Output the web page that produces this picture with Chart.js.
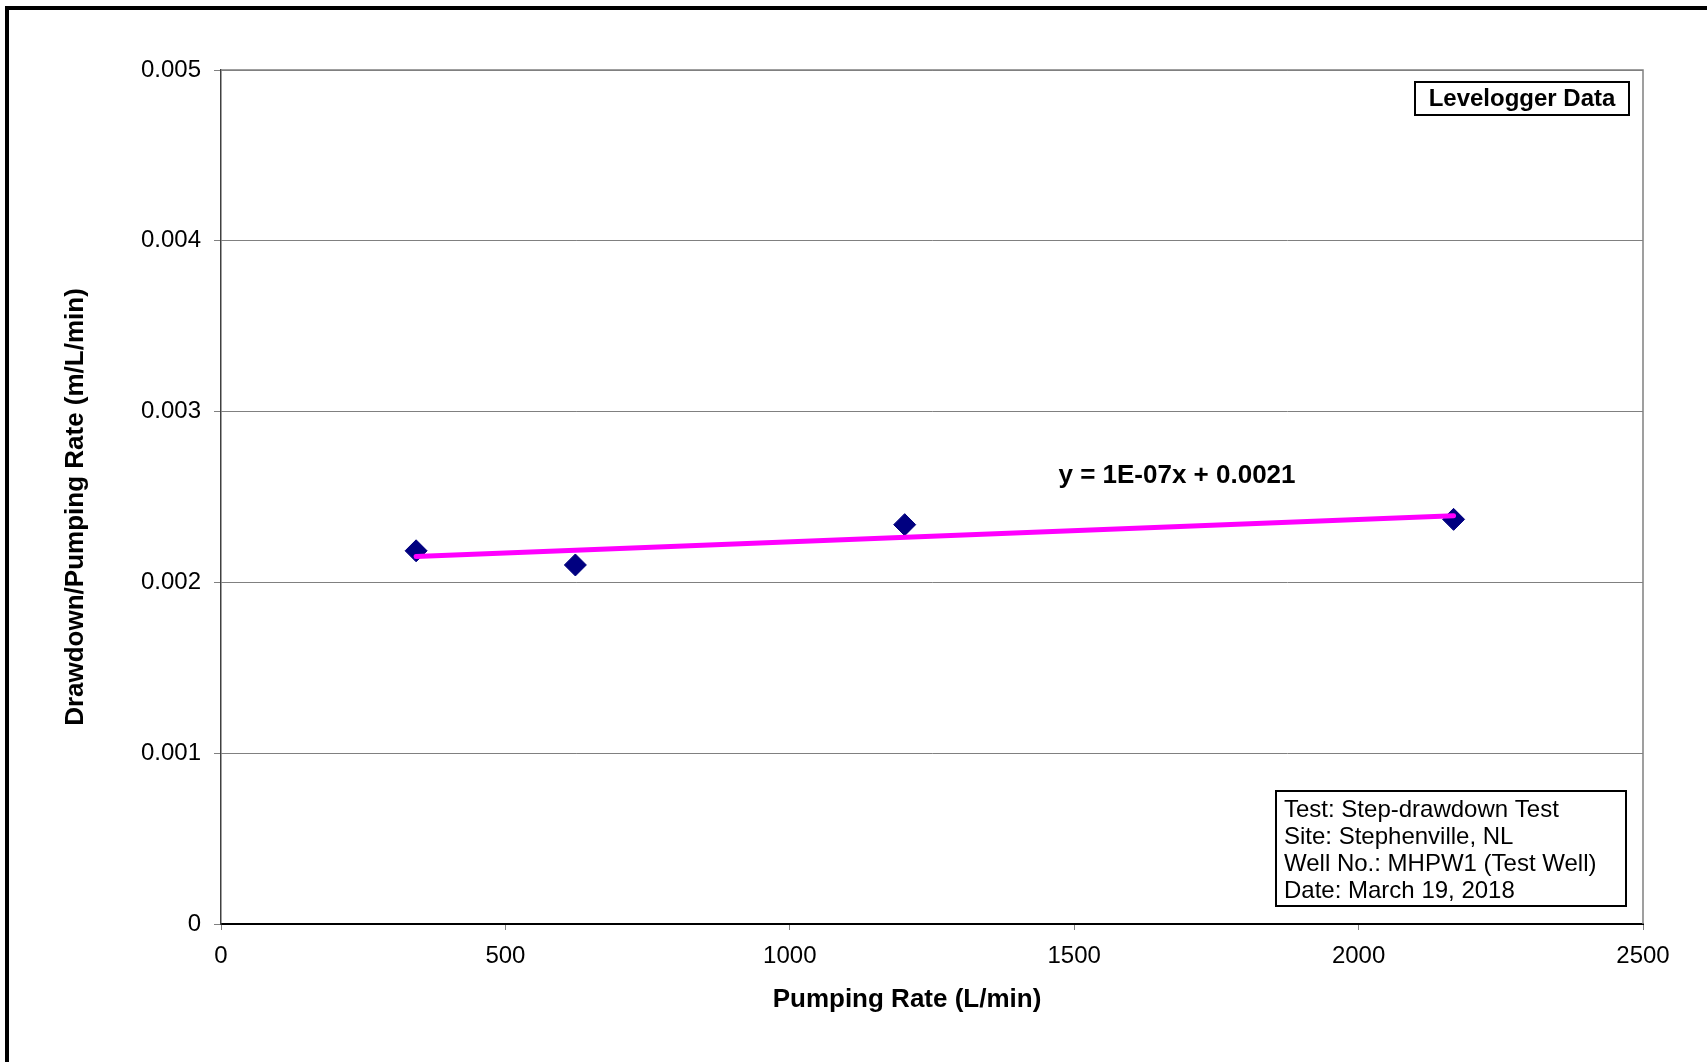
<!DOCTYPE html>
<html>
<head>
<meta charset="utf-8">
<script src="https://cdn.jsdelivr.net/npm/chart.js@4.4.1/dist/chart.umd.min.js"></script>
<style>
  html, body { margin: 0; padding: 0; background: #fff; overflow: hidden; }
  canvas { display: block; }
</style>
</head>
<body>
<canvas id="c" width="1707" height="1062"></canvas>
<script>
// Step-drawdown test: specific drawdown against pumping rate
const pumpingRates = [343, 623, 1202, 2167];                 // L/min
const specificDrawdown = [0.002185, 0.002102, 0.002338, 0.002369]; // m/(L/min)
const xTicks = [0, 500, 1000, 1500, 2000, 2500];
const yTicks = [0, 0.001, 0.002, 0.003, 0.004, 0.005];
const seriesLabel = 'Levelogger Data';
const xTitle = 'Pumping Rate (L/min)';
const yTitle = 'Drawdown/Pumping Rate (m/L/min)';
const infoLines = [
  'Test: Step-drawdown Test',
  'Site: Stephenville, NL',
  'Well No.: MHPW1 (Test Well)',
  'Date: March 19, 2018'
];

// Least-squares linear trendline through the measured points
function linearFit(xs, ys) {
  const n = xs.length;
  const mx = xs.reduce((a, b) => a + b, 0) / n;
  const my = ys.reduce((a, b) => a + b, 0) / n;
  let sxy = 0, sxx = 0;
  for (let i = 0; i < n; i++) {
    sxy += (xs[i] - mx) * (ys[i] - my);
    sxx += (xs[i] - mx) * (xs[i] - mx);
  }
  const slope = sxy / sxx;
  return { slope, intercept: my - slope * mx };
}
const fit = linearFit(pumpingRates, specificDrawdown);
const xMin = Math.min(...pumpingRates), xMax = Math.max(...pumpingRates);
const trendPoints = [
  { x: xMin, y: fit.intercept + fit.slope * xMin },
  { x: xMax, y: fit.intercept + fit.slope * xMax }
];

// Spreadsheet-style scientific notation, e.g. 1E-07
function sciLabel(v) {
  const [m, e] = v.toExponential(0).split('e');
  const n = parseInt(e, 10);
  return m + 'E' + (n < 0 ? '-' : '+') + String(Math.abs(n)).padStart(2, '0');
}
const equationText = 'y = ' + sciLabel(fit.slope) + 'x + ' + fit.intercept.toFixed(4);

const FONT = '"Liberation Sans", Arial, sans-serif';

const decorations = {
  id: 'decorations',
  beforeDraw(chart) {
    const ctx = chart.ctx;
    ctx.save();
    ctx.fillStyle = '#fff';
    ctx.fillRect(0, 0, chart.width, chart.height);
    // outer frame (continues past the right and bottom edges)
    ctx.strokeStyle = '#000';
    ctx.lineWidth = 4;
    ctx.strokeRect(7, 8, chart.width + 40, chart.height + 40);
    ctx.restore();
  },
  beforeDatasetsDraw(chart) {
    const { ctx, chartArea: a } = chart;
    ctx.save();
    ctx.strokeStyle = '#808080';
    ctx.lineWidth = 1.5;
    ctx.beginPath();
    ctx.moveTo(a.left, a.top);
    ctx.lineTo(a.right, a.top);
    ctx.lineTo(a.right, a.bottom);
    ctx.stroke();
    ctx.restore();
  },
  afterDraw(chart) {
    const { ctx } = chart;
    ctx.save();
    ctx.fillStyle = '#000';

    // axis titles
    ctx.font = 'bold 26px ' + FONT;
    ctx.textAlign = 'center';
    ctx.textBaseline = 'middle';
    ctx.fillText(xTitle, 907, 1000);
    ctx.save();
    ctx.translate(76, 507);
    ctx.rotate(-Math.PI / 2);
    ctx.fillText(yTitle, 0, 0);
    ctx.restore();

    // trendline equation
    ctx.font = 'bold 26px ' + FONT;
    ctx.fillText(equationText, 1177, 476);

    // series legend box
    ctx.lineWidth = 2;
    ctx.strokeStyle = '#000';
    ctx.strokeRect(1415, 82, 214, 33);
    ctx.font = 'bold 24px ' + FONT;
    ctx.fillText(seriesLabel, 1522, 99.5);

    // test information box
    ctx.fillStyle = '#fff';
    ctx.fillRect(1276, 791, 350, 115);
    ctx.strokeRect(1276, 791, 350, 115);
    ctx.fillStyle = '#000';
    ctx.font = '24px ' + FONT;
    ctx.textAlign = 'left';
    ctx.textBaseline = 'alphabetic';
    infoLines.forEach((t, i) => ctx.fillText(t, 1284, 816.5 + i * 27.2));
    ctx.restore();
  }
};

new Chart(document.getElementById('c'), {
  type: 'scatter',
  data: {
    datasets: [
      {
        label: 'Linear trend',
        type: 'line',
        data: trendPoints,
        borderColor: '#FF00FF',
        borderWidth: 5,
        borderCapStyle: 'round',
        pointRadius: 0,
        fill: false,
        order: 0
      },
      {
        label: seriesLabel,
        data: pumpingRates.map((x, i) => ({ x, y: specificDrawdown[i] })),
        pointStyle: 'rectRot',
        pointRadius: 11,
        backgroundColor: '#000080',
        borderColor: '#000080',
        borderWidth: 1,
        order: 1
      }
    ]
  },
  options: {
    responsive: false,
    animation: false,
    events: [],
    layout: { padding: { left: 0, top: 70, right: 64, bottom: 0 } },
    plugins: { legend: { display: false }, tooltip: { enabled: false }, title: { display: false } },
    scales: {
      x: {
        type: 'linear',
        min: xTicks[0],
        max: xTicks[xTicks.length - 1],
        afterBuildTicks: s => { s.ticks = xTicks.map(v => ({ value: v })); },
        afterFit: s => { s.height = 138; },
        ticks: {
          callback: v => String(v),
          color: '#000',
          font: { family: FONT, size: 24 },
          padding: 12,
          maxRotation: 0,
          autoSkip: false
        },
        grid: { drawOnChartArea: false, drawTicks: true, tickLength: 6, color: '#808080', lineWidth: 1 },
        border: { color: '#000', width: 2 }
      },
      y: {
        type: 'linear',
        min: yTicks[0],
        max: yTicks[yTicks.length - 1],
        afterBuildTicks: s => { s.ticks = yTicks.map(v => ({ value: v })); },
        afterFit: s => { s.width = 221; },
        ticks: {
          callback: v => (v === 0 ? '0' : v.toFixed(3)),
          color: '#000',
          font: { family: FONT, size: 24 },
          padding: 13,
          autoSkip: false
        },
        grid: { color: '#808080', lineWidth: 1, tickLength: 7 },
        border: { color: '#404040', width: 1.5 }
      }
    }
  },
  plugins: [decorations]
});
</script>
</body>
</html>
